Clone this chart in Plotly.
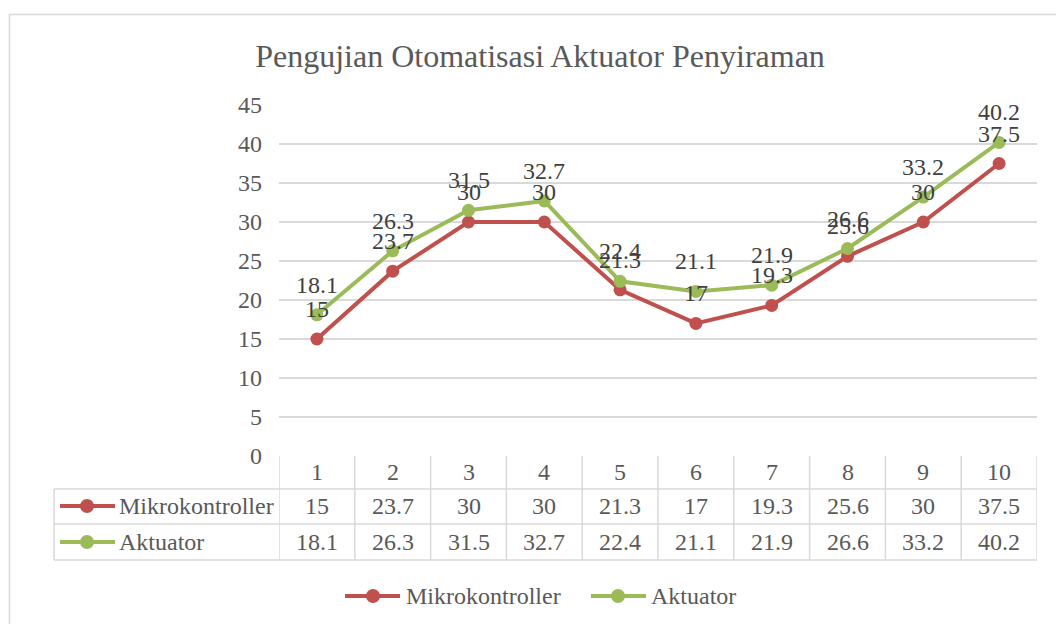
from plotly import graph_objects as go

categories = [str(i) for i in range(1, 11)]
mikrokontroller = [15, 23.7, 30, 30, 21.3, 17, 19.3, 25.6, 30, 37.5]
aktuator = [18.1, 26.3, 31.5, 32.7, 22.4, 21.1, 21.9, 26.6, 33.2, 40.2]
y_ticks = [0, 5, 10, 15, 20, 25, 30, 35, 40, 45]

series = [("Mikrokontroller", mikrokontroller, "#C0504D"),
          ("Aktuator", aktuator, "#9BBB59")]

W, H = 1056, 624
L, R, T, B = 279, 1037, 105, 456
GRID = "#d9d9d9"
FONT = "Liberation Serif"
TXT = "#595959"


def px(v):
    return (v - L) / (R - L)


def py(v):
    return (B - v) / (B - T)


xs = list(range(1, len(categories) + 1))

fig = go.Figure()
for name, vals, color in series:
    fig.add_trace(go.Scatter(x=xs, y=vals, name=name, mode="lines+markers",
                             line=dict(color=color, width=4),
                             marker=dict(color=color, size=13),
                             showlegend=False, hoverinfo="x+y+name"))

shapes = []
annotations = []


def label(x, y, text, xref="paper", yref="paper", xanchor="center", color=TXT, **kw):
    annotations.append(dict(x=x, y=y, xref=xref, yref=yref, text=text,
                            xanchor=xanchor, yanchor="middle", showarrow=False,
                            font=dict(size=24, color=color, family=FONT), **kw))


# data labels
for name, vals, color in series:
    for x, v in zip(xs, vals):
        label(x, v, f"{v:g}", xref="x", yref="y", color="#404040", yshift=30)

# data table: header row with categories
for x, c in zip(xs, categories):
    label(x, py(472), c, xref="x")

# table grid
for yl in [489, 524, 560]:
    shapes.append(dict(type="line", xref="paper", yref="paper",
                       x0=px(54), x1=1, y0=py(yl), y1=py(yl),
                       line=dict(color=GRID, width=1.5)))
shapes.append(dict(type="line", xref="paper", yref="paper",
                   x0=px(54), x1=px(54), y0=py(489), y1=py(560),
                   line=dict(color=GRID, width=1.5)))
for b in [0.5 + i for i in range(len(categories) + 1)]:
    shapes.append(dict(type="line", xref="x", yref="paper",
                       x0=b, x1=b, y0=py(456), y1=py(560),
                       line=dict(color=GRID, width=1.5)))


def key(x0, x1, xm, yc, color):
    shapes.append(dict(type="line", xref="paper", yref="paper",
                       x0=px(x0), x1=px(x1), y0=py(yc), y1=py(yc),
                       line=dict(color=color, width=4)))
    shapes.append(dict(type="circle", xref="paper", yref="paper",
                       xsizemode="pixel", ysizemode="pixel",
                       xanchor=px(xm), yanchor=py(yc),
                       x0=-7, x1=7, y0=-7, y1=7,
                       fillcolor=color, line=dict(color=color, width=0)))


row_centers = [506, 542]
for (name, vals, color), yc in zip(series, row_centers):
    for x, v in zip(xs, vals):
        label(x, py(yc), f"{v:g}", xref="x")
    key(60, 115, 87, yc, color)
    label(px(117), py(yc), name, xanchor="left")

# bottom legend
legend_pos = [(345, 400, 373, 404), (591, 646, 618, 649)]
for (name, vals, color), (a, b, m, t) in zip(series, legend_pos):
    key(a, b, m, 596, color)
    label(px(t), py(596), name, xanchor="left")

# chart frame
shapes.append(dict(type="rect", xref="paper", yref="paper",
                   x0=px(9.5), x1=px(1080), y0=py(14.5), y1=py(660),
                   line=dict(color=GRID, width=1.5), layer="below"))

fig.update_layout(
    width=W, height=H,
    margin=dict(l=L, r=W - R, t=T, b=H - B, pad=0),
    paper_bgcolor="white", plot_bgcolor="white",
    font=dict(family=FONT, color=TXT, size=24),
    title=dict(text="Pengujian Otomatisasi Aktuator Penyiraman",
               x=540 / W, xanchor="center", y=1 - 56 / H, yanchor="middle",
               xref="container", yref="container",
               font=dict(size=32, color=TXT, family=FONT)),
    shapes=shapes,
    annotations=annotations,
)
fig.update_xaxes(range=[0.5, len(categories) + 0.5], showticklabels=False,
                 showgrid=False, zeroline=False, showline=False, ticks="")
fig.update_yaxes(range=[0, 45], tickvals=y_ticks, showgrid=True, gridcolor=GRID,
                 gridwidth=1.5, zeroline=False, showline=False, ticks="",
                 ticklabelstandoff=16, tickfont=dict(size=24, color=TXT, family=FONT))

fig.write_html("out.html", config={"displayModeBar": False},
               post_script="document.body.style.margin='0';")
